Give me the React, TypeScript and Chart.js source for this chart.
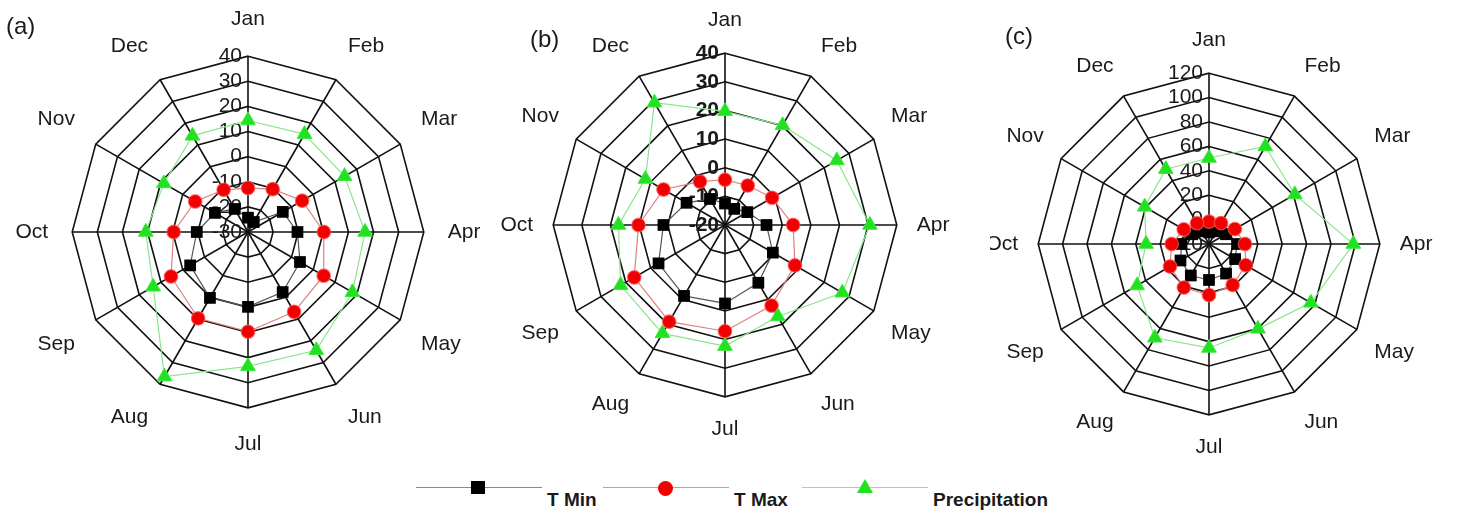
import React, { useEffect, useRef } from 'react';
import { Chart, registerables } from 'chart.js';

Chart.register(...registerables);

const months = ['Jan', 'Feb', 'Mar', 'Apr', 'May', 'Jun', 'Jul', 'Aug', 'Sep', 'Oct', 'Nov', 'Dec'];

// Panel (a)
const ticksA = [-30, -20, -10, 0, 10, 20, 30, 40];
const tMinA = [-24.3, -25.4, -14, -10.3, -6.1, -2.4, -0.2, 0.3, -3.4, -9.6, -14.8, -19.4];
const tMaxA = [-12.5, -10.3, -5.1, 0.2, 4.8, 6.7, 9.7, 9.7, 5.4, -0.4, -5.7, -10.6];
const precipA = [14.4, 15, 14.4, 16.6, 18, 24.4, 23.5, 36.5, 13.6, 10.7, 8.7, 14.2];

// Panel (b)
const ticksB = [-20, -10, 0, 10, 20, 30, 40];
const tMinB = [-12.5, -13.5, -11, -5.5, -0.7, 3.3, 7.4, 8.6, 6.8, 1.5, -4.5, -9.5];
const tMaxB = [-4.2, -4.1, -1, 3.8, 8.2, 12.5, 17.1, 19, 16.6, 10.2, 4.8, -2.5];
const precipB = [19.7, 20.2, 25.1, 30.6, 27.3, 16.9, 22.3, 23.7, 22.1, 17.2, 12.1, 29.3];

// Panel (c)
const ticksC = [-20, 0, 20, 40, 60, 80, 100, 120];
const tMinC = [-10.5, -8, -4, 3, 4.7, 8, 9.5, 9.8, 7, 2.5, -4, -8];
const tMaxC = [-1.7, -0.2, 4.5, 9.5, 14.8, 18.8, 21.8, 21.2, 16.9, 10.6, 3.9, -0.3];
const precipC = [50.5, 72.3, 61.2, 98.3, 76.4, 60.3, 65.2, 68.8, 48, 31.6, 40.9, 50.8];

const seriesNames = ['T Min', 'T Max', 'Precipitation'];

const FONT = "'Liberation Sans', Arial, Helvetica, sans-serif";

const tickLabelPlugin = {
  id: 'tickLabels',
  beforeDatasetsDraw(chart: any, _args: any, opts: any) {
    const scale = chart.scales.r;
    const ctx = chart.ctx;
    ctx.save();
    ctx.font = opts.font;
    ctx.fillStyle = '#1a1a1a';
    ctx.textAlign = 'right';
    ctx.textBaseline = 'middle';
    (opts.ticks as number[]).forEach((v) => {
      const d = scale.getDistanceFromCenterForValue(v);
      ctx.fillText(String(v), scale.xCenter - opts.dx, scale.yCenter - d);
    });
    ctx.restore();
  },
};

type PanelProps = {
  tMin: number[];
  tMax: number[];
  precip: number[];
  ticks: number[];
  tickFont: string;
  labelPadding: number;
  wrapLeft: number;
  wrapWidth: number;
  canvasLeft: number;
  canvasTop: number;
  canvasH: number;
  tag: string;
  tagLeft: number;
  tagTop: number;
};

function RadarPanel(p: PanelProps) {
  const ref = useRef<HTMLCanvasElement | null>(null);
  useEffect(() => {
    if (!ref.current) return;
    const chart = new Chart(ref.current, {
      type: 'radar',
      data: {
        labels: months,
        datasets: [
          {
            label: seriesNames[2],
            data: p.precip,
            borderColor: '#8be68b',
            borderWidth: 1.2,
            pointStyle: 'triangle',
            pointRadius: 8.5,
            pointBackgroundColor: '#22e022',
            pointBorderColor: '#3ce83c',
            pointBorderWidth: 1,
            fill: false,
          },
          {
            label: seriesNames[1],
            data: p.tMax,
            borderColor: '#dd8080',
            borderWidth: 1.2,
            pointStyle: 'circle',
            pointRadius: 6.8,
            pointBackgroundColor: '#f20000',
            pointBorderColor: 'rgba(255,90,90,0.7)',
            pointBorderWidth: 1.2,
            fill: false,
          },
          {
            label: seriesNames[0],
            data: p.tMin,
            borderColor: '#555555',
            borderWidth: 1.2,
            pointStyle: 'rect',
            pointRadius: 8.3,
            pointBackgroundColor: '#000000',
            pointBorderColor: '#000000',
            pointBorderWidth: 0,
            fill: false,
          },
        ],
      },
      options: {
        responsive: false,
        animation: false,
        events: [],
        elements: { line: { tension: 0 } },
        layout: { padding: 0 },
        plugins: {
          legend: { display: false },
          tooltip: { enabled: false },
          tickLabels: { font: p.tickFont, dx: 6, ticks: p.ticks },
        } as any,
        scales: {
          r: {
            min: p.ticks[0],
            max: p.ticks[p.ticks.length - 1],
            beginAtZero: false,
            ticks: { display: false, stepSize: p.ticks[1] - p.ticks[0] },
            grid: { color: '#111111', lineWidth: 1.6, circular: false },
            angleLines: { color: '#111111', lineWidth: 1.6 },
            pointLabels: {
              font: { family: FONT, size: 21 },
              color: '#1a1a1a',
              padding: p.labelPadding,
            },
          },
        },
      },
      plugins: [tickLabelPlugin],
    });
    return () => chart.destroy();
  }, []);

  return (
    <div
      style={{
        position: 'absolute',
        left: p.wrapLeft,
        top: 0,
        width: p.wrapWidth,
        height: 514,
        overflow: 'hidden',
      }}
    >
      <canvas
        ref={ref}
        width={600}
        height={p.canvasH}
        style={{ position: 'absolute', left: p.canvasLeft, top: p.canvasTop, width: 600, height: p.canvasH }}
      />
      <div
        style={{
          position: 'absolute',
          left: p.tagLeft,
          top: p.tagTop,
          fontFamily: FONT,
          fontSize: 24,
          lineHeight: '28px',
          color: '#1a1a1a',
          whiteSpace: 'nowrap',
        }}
      >
        {p.tag}
      </div>
    </div>
  );
}

function LegendItem({ left, name, marker }: { left: number; name: string; marker: 'rect' | 'circle' | 'triangle' }) {
  const lineColor = marker === 'rect' ? '#8a8a8a' : marker === 'circle' ? '#e29090' : '#8fe68f';
  let m: React.ReactNode;
  if (marker === 'rect') {
    m = <div style={{ position: 'absolute', left: 55, top: -7, width: 14, height: 13, background: '#000' }} />;
  } else if (marker === 'circle') {
    m = <div style={{ position: 'absolute', left: 55, top: -7.5, width: 15, height: 15, borderRadius: '50%', background: '#f20000' }} />;
  } else {
    m = (
      <div
        style={{
          position: 'absolute',
          left: 55,
          top: -9,
          width: 0,
          height: 0,
          borderLeft: '8px solid transparent',
          borderRight: '8px solid transparent',
          borderBottom: '14px solid #22e022',
        }}
      />
    );
  }
  return (
    <div style={{ position: 'absolute', left, top: 488 }}>
      <div style={{ position: 'absolute', left: 0, top: -1, width: 126, height: 0, borderTop: `1.5px solid ${lineColor}` }} />
      {m}
      <div
        style={{
          position: 'absolute',
          left: 131,
          top: 1,
          fontFamily: FONT,
          fontWeight: 'bold',
          fontSize: 19,
          lineHeight: '22px',
          color: '#1a1a1a',
          whiteSpace: 'nowrap',
        }}
      >
        {name}
      </div>
    </div>
  );
}

export default function App() {
  return (
    <div
      style={{
        position: 'fixed',
        left: 0,
        top: 0,
        width: 1458,
        height: 514,
        background: '#ffffff',
        overflow: 'hidden',
      }}
    >
      <RadarPanel
        tMin={tMinA}
        tMax={tMaxA}
        precip={precipA}
        ticks={ticksA}
        tickFont={`21px ${FONT}`}
        labelPadding={24}
        wrapLeft={0}
        wrapWidth={480}
        canvasLeft={-52}
        canvasTop={7}
        canvasH={450}
        tag="(a)"
        tagLeft={6}
        tagTop={12}
      />
      <RadarPanel
        tMin={tMinB}
        tMax={tMaxB}
        precip={precipB}
        ticks={ticksB}
        tickFont={`bold 21px ${FONT}`}
        labelPadding={20}
        wrapLeft={480}
        wrapWidth={510}
        canvasLeft={-55}
        canvasTop={8}
        canvasH={434}
        tag="(b)"
        tagLeft={50}
        tagTop={25}
      />
      <RadarPanel
        tMin={tMinC}
        tMax={tMaxC}
        precip={precipC}
        ticks={ticksC}
        tickFont={`21px ${FONT}`}
        labelPadding={20}
        wrapLeft={990}
        wrapWidth={468}
        canvasLeft={-81}
        canvasTop={28}
        canvasH={432}
        tag="(c)"
        tagLeft={15}
        tagTop={22}
      />
      <LegendItem left={416} name={seriesNames[0]} marker="rect" />
      <LegendItem left={603} name={seriesNames[1]} marker="circle" />
      <LegendItem left={802} name={seriesNames[2]} marker="triangle" />
    </div>
  );
}
